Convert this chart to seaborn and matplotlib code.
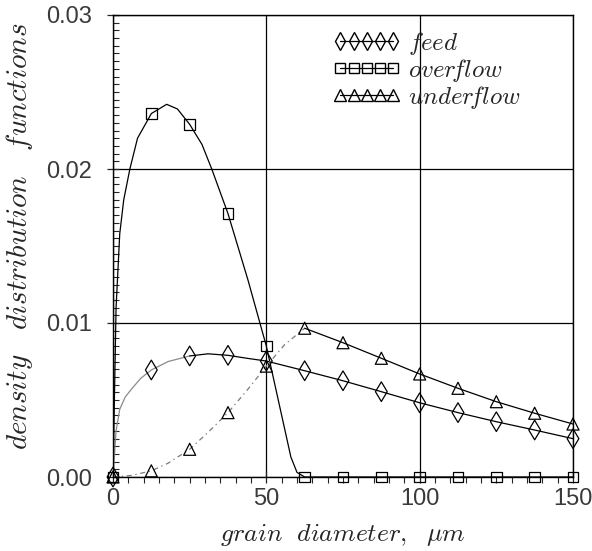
import numpy as np
import pandas as pd
import matplotlib
matplotlib.use('Agg')
import matplotlib.pyplot as plt
from matplotlib.lines import Line2D
from matplotlib.ticker import MultipleLocator, FormatStrFormatter
import seaborn as sns

# marker positions (grain diameter, um) and values
x_pts = [0, 12.5, 25, 37.5, 50, 62.5, 75, 87.5, 100, 112.5, 125, 137.5, 150]
feed_pts = [0, 0.00695, 0.00786, 0.0079, 0.00753, 0.0069, 0.00625, 0.00554,
            0.00482, 0.00418, 0.00359, 0.00305, 0.00249]
overflow_pts = [0, 0.0236, 0.0229, 0.0171, 0.0085, 0, 0, 0, 0, 0, 0, 0, 0]
underflow_pts = [0, 0.0004, 0.0018, 0.00418, 0.0072, 0.00966, 0.00872, 0.00771,
                 0.00669, 0.00576, 0.00489, 0.00414, 0.00344]

# points
feed_cx = [0, 1, 2.2, 4, 6, 9, 12.5, 18, 25, 31, 37.5, 44, 50,
           62.5, 75, 87.5, 100, 112.5, 125, 137.5, 150]
feed_cy = [0, 0.0030, 0.0044, 0.0052, 0.0057, 0.0064, 0.00695, 0.0075, 0.00786,
           0.0080, 0.0079, 0.0077, 0.00753,
           0.0069, 0.00625, 0.00554, 0.00482, 0.00418, 0.00359, 0.00305, 0.00249]
over_cx = [0, 1, 2.2, 3.5, 5.5, 8, 12.5, 17.5, 21, 25, 29, 32.2, 37.5, 44, 50,
           55, 58, 60, 62.5, 150]
over_cy = [0, 0.0110, 0.0158, 0.0180, 0.0200, 0.0220, 0.0236, 0.0242, 0.0239,
           0.0229, 0.0216, 0.0200, 0.0171, 0.0128, 0.0085, 0.0040, 0.0013,
           0.0003, 0, 0]
under_cx = [0, 6, 12.5, 18, 25, 31, 37.5, 44, 50, 56, 62.5,
            75, 87.5, 100, 112.5, 125, 137.5, 150]
under_cy = [0, 0.0001, 0.0004, 0.0009, 0.0018, 0.0029, 0.00418, 0.0057, 0.0072,
            0.0086, 0.00966,
            0.00872, 0.00771, 0.00669, 0.00576, 0.00489, 0.00414, 0.00344]

labels = [r'$feed$', r'$over\!flow$', r'$under\!flow$']

sns.set_style('ticks')
plt.rcParams['mathtext.fontset'] = 'cm'
plt.rcParams['font.family'] = ['Liberation Sans', 'DejaVu Sans']

fig = plt.figure(figsize=(5.92, 5.51), dpi=100)
ax = fig.add_axes([113 / 592, 1 - 477 / 551, 460 / 592, 462 / 551])

# curves (the faint early parts of feed / underflow in lighter ink)
k = feed_cx.index(25) + 1
sns.lineplot(x=feed_cx[:k], y=feed_cy[:k], ax=ax, color='#8a8a8a', lw=0.9, sort=False)
sns.lineplot(x=feed_cx[k - 1:], y=feed_cy[k - 1:], ax=ax, color='black', lw=0.9, sort=False)
sns.lineplot(x=over_cx, y=over_cy, ax=ax, color='black', lw=0.9, sort=False)
n = under_cx.index(62.5) + 1
sns.lineplot(x=under_cx[:n], y=under_cy[:n], ax=ax, color='#7a7a7a', lw=0.9,
             sort=False, linestyle=(0, (4, 3, 1, 3)))
sns.lineplot(x=under_cx[n - 1:], y=under_cy[n - 1:], ax=ax, color='black',
             lw=0.9, sort=False)

# markers (hollow, lines show through)
mk = dict(facecolor='none', edgecolor='black', linewidth=0.9, zorder=5,
          clip_on=False)
sns.scatterplot(x=x_pts, y=feed_pts, marker='d', s=100, ax=ax, **mk)
sns.scatterplot(x=x_pts, y=overflow_pts, marker='s', s=60, ax=ax, **mk)
sns.scatterplot(x=x_pts, y=underflow_pts, marker='^', s=75, ax=ax, **mk)

ax.set_xlim(0, 150)
ax.set_ylim(0, 0.03)
ax.xaxis.set_major_locator(MultipleLocator(50))
ax.xaxis.set_minor_locator(MultipleLocator(5))
ax.yaxis.set_major_locator(MultipleLocator(0.01))
ax.yaxis.set_minor_locator(MultipleLocator(0.0005))
ax.yaxis.set_major_formatter(FormatStrFormatter('%.2f'))
ax.grid(True, which='major', color='black', lw=0.9)
ax.tick_params(which='major', direction='inout', length=8, width=0.9,
               labelsize=17, labelcolor='#3a3a3a')
ax.tick_params(axis='y', which='major', pad=11)
ax.tick_params(axis='x', which='major', pad=4)
ax.tick_params(axis='y', which='minor', direction='in', length=4, width=0.8)
ax.tick_params(axis='x', which='minor', direction='out', length=4, width=0.8)
for s in ax.spines.values():
    s.set_linewidth(1.0)
    s.set_color('black')

ax.set_xlabel(r'$grain\ \ diameter,\ \ \mu m$', fontsize=18.5)
ax.xaxis.set_label_coords(0.5, -0.098)
ax.set_ylabel(r'$density\ \ \ distribution\ \ \ functions$', fontsize=21)
ax.yaxis.set_label_coords(-0.17, 0.52)

handles = [
    Line2D([], [], color='black', lw=0.9, marker='d', markersize=9,
           markerfacecolor='none', markeredgecolor='black'),
    Line2D([], [], color='black', lw=0.9, marker='s', markersize=7.5,
           markerfacecolor='none', markeredgecolor='black'),
    Line2D([], [], color='black', lw=0.9, marker='^', markersize=8,
           markerfacecolor='none', markeredgecolor='black'),
]
ax.legend(handles, labels, loc='upper left',
          bbox_to_anchor=(0.478, 0.967), numpoints=5, frameon=False,
          fontsize=18, handlelength=2.7, handletextpad=0.3,
          labelspacing=0.0, borderaxespad=0, borderpad=0)

fig.savefig('out.png', dpi=100)
